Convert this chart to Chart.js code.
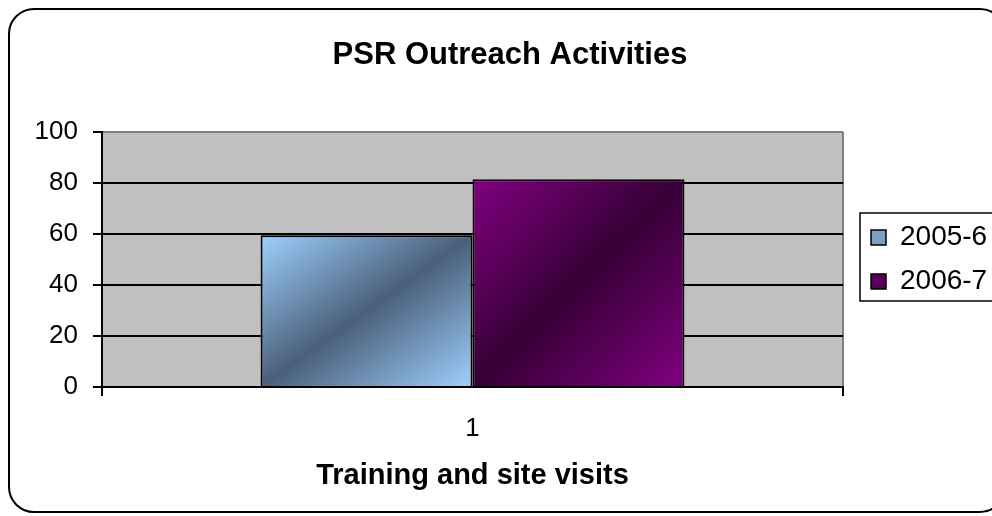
<!DOCTYPE html>
<html>
<head>
<meta charset="utf-8">
<title>PSR Outreach Activities</title>
<script src="https://cdn.jsdelivr.net/npm/chart.js@4"></script>
<style>
  html, body { margin: 0; padding: 0; background: #fff; }
  #wrap { width: 992px; height: 516px; }
</style>
</head>
<body>
<div id="wrap"><canvas id="myChart" width="992" height="516"></canvas></div>
<script>
// chart data
var categories = ["1"];
var seriesNames = ["2005-6", "2006-7"];
var values0506 = [59.5];
var values0607 = [81.5];
var yTicks = [0, 20, 40, 60, 80, 100];

var FONT = "'Liberation Sans', Arial, sans-serif";
var CAT_PCT = 0.572;
var LEGEND_SIZE = 28;
var TITLE_SIZE = 31;

// light corners / dark middle, like the old office diagonal fill
var fills = [
  { light: "#9fd0ff", dark: "#4a607a", mid: "#7d9fc2" },
  { light: "#800080", dark: "#360036", mid: "#55005a" },
];

function barFill(c) {
  var f = fills[c.datasetIndex];
  var chart = c.chart;
  var area = chart.chartArea;
  if (!area || c.type !== "data") return f.mid;
  var xs = chart.scales.x, ys = chart.scales.y;
  var catW = xs.width / categories.length;
  var n = chart.data.datasets.length;
  var bw = (catW * CAT_PCT) / n;
  var center = xs.getPixelForValue(c.dataIndex);
  var left = center - (bw * n) / 2 + c.datasetIndex * bw;
  var top = ys.getPixelForValue(c.raw);
  var bottom = ys.getPixelForValue(0);
  var w = bw, h = bottom - top;
  var cx = left + w / 2, cy = top + h / 2;
  var len = Math.sqrt(w * w + h * h) || 1;
  // gradient runs normal to the bottom-left / top-right diagonal
  var nx = h / len, ny = w / len, d = (w * h) / len;
  var g = chart.ctx.createLinearGradient(cx - nx * d, cy - ny * d, cx + nx * d, cy + ny * d);
  g.addColorStop(0, f.light);
  g.addColorStop(0.5, f.dark);
  g.addColorStop(1, f.light);
  return g;
}

var framePlugin = {
  id: "frame",
  afterInit: function (chart) {
    var lg = chart.legend;
    var fit = lg.fit;
    lg.fit = function () {
      fit.call(this);
      this.width = 149;
    };
  },
  afterLayout: function (chart) {
    // push legend items a bit further from the plot
    chart.legend.left += 12;
    chart.legend.right += 12;
  },
  beforeDraw: function (chart) {
    var a = chart.chartArea, ctx = chart.ctx;
    ctx.save();
    ctx.fillStyle = "#c0c0c0";
    ctx.fillRect(a.left, a.top, a.right - a.left, a.bottom - a.top);
    ctx.restore();
  },
  afterDraw: function (chart) {
    var ctx = chart.ctx;
    ctx.save();
    ctx.strokeStyle = "#000";
    ctx.lineWidth = 2;
    // outer rounded frame
    ctx.beginPath();
    ctx.roundRect(9, 9, 996, 503, 25);
    ctx.stroke();
    // legend frame
    var hb = chart.legend.legendHitBoxes;
    if (hb && hb.length) {
      var off = (LEGEND_SIZE - 15) / 2;
      var x0 = hb[0].left - 11;
      var y0 = hb[0].top + off - 17;
      var y1 = hb[hb.length - 1].top + off + 15 + 12;
      ctx.lineWidth = 1.5;
      ctx.strokeRect(x0, y0, 992 - x0 + 5, y1 - y0);
    }
    ctx.restore();
  },
};

var ctx = document.getElementById("myChart").getContext("2d");
var myChart = new Chart(ctx, {
  type: "bar",
  data: {
    labels: categories,
    datasets: [
      {
        label: seriesNames[0],
        data: values0506,
        backgroundColor: barFill,
        borderColor: "#000",
        borderWidth: 2,
      },
      {
        label: seriesNames[1],
        data: values0607,
        backgroundColor: barFill,
        borderColor: "#000",
        borderWidth: 2,
      },
    ],
  },
  options: {
    responsive: false,
    animation: false,
    layout: { padding: { left: 28, right: 0, top: 0, bottom: 0 } },
    datasets: {
      bar: { barPercentage: 1, categoryPercentage: CAT_PCT },
    },
    plugins: {
      title: {
        display: true,
        text: "PSR Outreach Activities",
        color: "#000",
        font: { family: FONT, size: TITLE_SIZE, weight: "bold" },
        padding: { top: 37, bottom: 132 - 37 - TITLE_SIZE * 1.2 },
      },
      legend: {
        position: "right",
        fullSize: false,
        labels: {
          color: "#000",
          font: { family: FONT, size: LEGEND_SIZE },
          boxWidth: 15,
          boxHeight: 15,
          padding: 16,
          generateLabels: function (chart) {
            var items = Chart.defaults.plugins.legend.labels.generateLabels(chart);
            items.forEach(function (it, i) {
              it.fillStyle = fills[i].mid;
              it.lineWidth = 1.5;
            });
            return items;
          },
        },
      },
      tooltip: { enabled: false },
    },
    scales: {
      x: {
        grid: {
          color: "#808080",
          lineWidth: 2,
          tickColor: "#000",
          tickLength: 9,
          tickWidth: 2,
        },
        border: { color: "#000", width: 2 },
        ticks: { color: "#000", font: { family: FONT, size: 26 }, padding: 17 },
        title: {
          display: true,
          text: "Training and site visits",
          color: "#000",
          font: { family: FONT, size: 29, weight: "bold" },
          padding: { top: 0, bottom: 23 },
        },
        afterFit: function (scale) {
          scale.height = 129;
        },
      },
      y: {
        min: yTicks[0],
        max: yTicks[yTicks.length - 1],
        afterBuildTicks: function (scale) {
          scale.ticks = yTicks.map(function (v) {
            return { value: v };
          });
        },
        grid: {
          color: function (c) {
            return c.tick && c.tick.value === 100 ? "#808080" : "#000";
          },
          lineWidth: 2,
          tickColor: "#000",
          tickLength: 9,
          tickWidth: 2,
        },
        border: { color: "#000", width: 2 },
        ticks: { color: "#000", font: { family: FONT, size: 26 }, padding: 15 },
        afterFit: function (scale) {
          scale.width = 74;
        },
      },
    },
  },
  plugins: [framePlugin],
});
</script>
</body>
</html>
